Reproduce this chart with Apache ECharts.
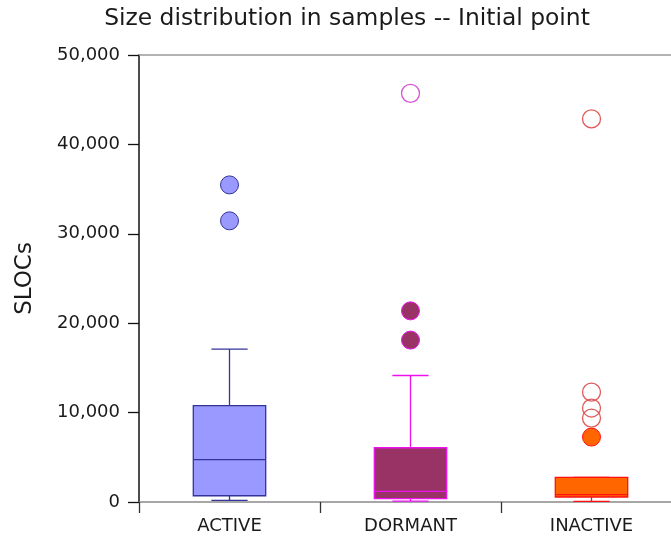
<!DOCTYPE html>
<html>
<head>
<meta charset="utf-8">
<script src="https://cdn.jsdelivr.net/npm/echarts@6/dist/echarts.min.js"></script>
<style>html,body{margin:0;padding:0;background:#fff;overflow:hidden;}#c{width:682px;height:541px;}</style>
</head>
<body>
<div id="c"></div>
<script>
// ---- data ----
var categories = ['ACTIVE', 'DORMANT', 'INACTIVE'];
// [whiskerLow, Q1, median, Q3, whiskerHigh]
var activeBox = [180, 700, 4730, 10770, 17100];
var dormantBox = [90, 370, 1185, 6070, 14150];
var inactiveBox = [70, 560, 816, 2750, 2750];
// outliers drawn filled / open
var activeFilled = [35470, 31450];
var dormantFilled = [21380, 18110];
var inactiveFilled = [7265];
var activeOpen = [];
var dormantOpen = [45710];
var inactiveOpen = [42850, 12295, 10510, 9390];
var yTicks = [0, 10000, 20000, 30000, 40000, 50000];

// ---- styles ----
var fills = ['#9999ff', '#993366', '#ff6600'];
var strokes = ['#333399', '#ee11ee', '#ff1111'];
var openStrokes = ['#333399', '#d455d4', '#e05a5a'];

var boxes = [activeBox, dormantBox, inactiveBox];
var filled = [activeFilled, dormantFilled, inactiveFilled];
var opens = [activeOpen, dormantOpen, inactiveOpen];

var boxData = boxes.map(function (b, i) { return [i].concat(b); });
var filledData = [], openData = [];
filled.forEach(function (arr, i) {
  arr.forEach(function (v) {
    filledData.push({ value: [i, v], itemStyle: { color: fills[i], borderColor: strokes[i], borderWidth: 1, opacity: 1 } });
  });
});
opens.forEach(function (arr, i) {
  arr.forEach(function (v) {
    openData.push({ value: [i, v], itemStyle: { color: 'rgba(0,0,0,0)', borderColor: openStrokes[i], borderWidth: 1.3, opacity: 1 } });
  });
});

var FONT = 'DejaVu Sans';
var chart = echarts.init(document.getElementById('c'));
chart.setOption({
  animation: false,
  backgroundColor: '#fff',
  title: {
    text: 'Size distribution in samples -- Initial point',
    left: 342, top: 2, textAlign: 'center',
    textStyle: { fontFamily: FONT, fontSize: 23.4, fontWeight: 'normal', color: '#1a1a1a' }
  },
  grid: { left: 139, right: 0, top: 55, bottom: 39, outerBoundsMode: 'none', containLabel: false },
  xAxis: [{
    type: 'category', data: categories, position: 'bottom',
    axisLine: { lineStyle: { color: '#8a8a8a', width: 1.5 } },
    axisTick: { show: true, length: 11, lineStyle: { color: '#333', width: 1.3 } },
    axisLabel: { fontFamily: FONT, fontSize: 18, color: '#1a1a1a', margin: 15 },
    splitLine: { show: false }
  }, {
    type: 'category', data: categories, position: 'top',
    axisLine: { lineStyle: { color: '#999', width: 1.5 } },
    axisTick: { show: false }, axisLabel: { show: false }
  }],
  yAxis: {
    type: 'value', min: yTicks[0], max: yTicks[yTicks.length - 1], interval: yTicks[1] - yTicks[0],
    name: 'SLOCs', nameLocation: 'middle', nameGap: 102,
    nameTextStyle: { fontFamily: FONT, fontSize: 23, color: '#1a1a1a' },
    axisLine: { show: true, lineStyle: { color: '#111', width: 1.5 } },
    axisTick: { show: true, length: 11, lineStyle: { color: '#111', width: 1.3 } },
    axisLabel: {
      fontFamily: FONT, fontSize: 18, color: '#1a1a1a', margin: 19,
      formatter: function (v) { return v.toLocaleString('en-US'); }
    },
    splitLine: { show: false }
  },
  series: [{
    type: 'custom',
    data: boxData,
    encode: { x: 0, y: [1, 2, 3, 4, 5] },
    z: 2,
    renderItem: function (params, api) {
      var i = api.value(0);
      var lo = api.value(1), q1 = api.value(2), med = api.value(3), q3 = api.value(4), hi = api.value(5);
      var cx = api.coord([i, med])[0];
      var bw = api.size([1, 0])[0] * 0.4;
      var cw = bw / 2;
      function y(v) { return api.coord([i, v])[1]; }
      var st = { stroke: strokes[i], lineWidth: 1.3, fill: null };
      return {
        type: 'group',
        children: [
          { type: 'line', shape: { x1: cx, y1: y(q3), x2: cx, y2: y(hi) }, style: st },
          { type: 'line', shape: { x1: cx, y1: y(q1), x2: cx, y2: y(lo) }, style: st },
          { type: 'line', shape: { x1: cx - cw / 2, y1: y(hi), x2: cx + cw / 2, y2: y(hi) }, style: st },
          { type: 'line', shape: { x1: cx - cw / 2, y1: y(lo), x2: cx + cw / 2, y2: y(lo) }, style: st },
          { type: 'rect', shape: { x: cx - bw / 2, y: y(q3), width: bw, height: y(q1) - y(q3) },
            style: { fill: fills[i], stroke: strokes[i], lineWidth: 1.3 } },
          { type: 'line', shape: { x1: cx - bw / 2, y1: y(med), x2: cx + bw / 2, y2: y(med) }, style: st }
        ]
      };
    }
  }, {
    type: 'scatter', data: filledData, symbol: 'circle', symbolSize: 18, z: 3, itemStyle: { opacity: 1 }
  }, {
    type: 'scatter', data: openData, symbol: 'circle', symbolSize: 18, z: 3, itemStyle: { opacity: 1 }
  }]
});
</script>
</body>
</html>
